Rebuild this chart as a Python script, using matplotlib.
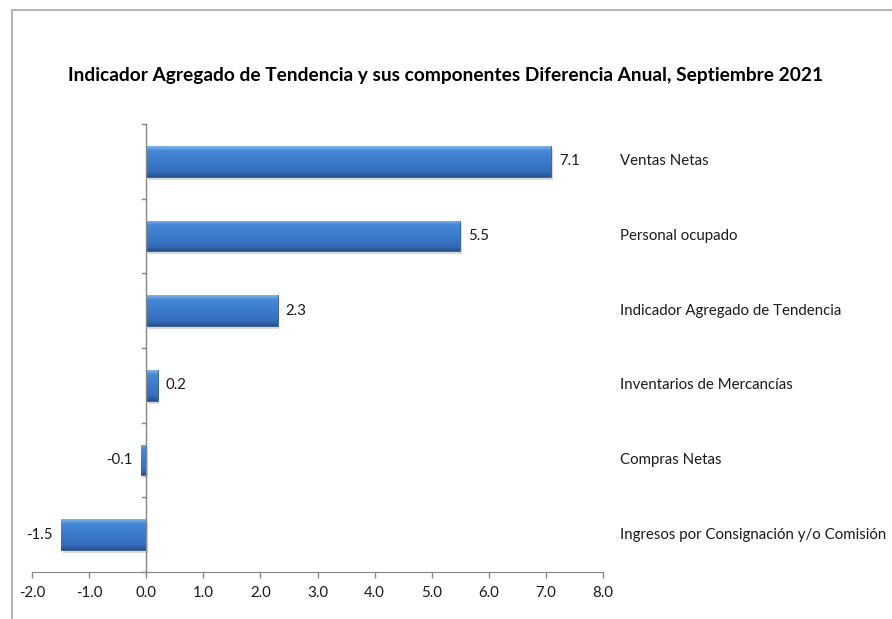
import numpy as np
import matplotlib
matplotlib.use("Agg")
import matplotlib.pyplot as plt
from matplotlib.patches import Rectangle
from matplotlib.colors import LinearSegmentedColormap
from matplotlib.transforms import blended_transform_factory

# data (bottom to top)
categories = ["Ingresos por Consignación y/o Comisión", "Compras Netas",
              "Inventarios de Mercancías", "Indicador Agregado de Tendencia",
              "Personal ocupado", "Ventas Netas"]
values = [-1.5, -0.1, 0.2, 2.3, 5.5, 7.1]
x_ticks = [-2.0, -1.0, 0.0, 1.0, 2.0, 3.0, 4.0, 5.0, 6.0, 7.0, 8.0]
title = "Indicador Agregado de Tendencia y sus componentes Diferencia Anual, Septiembre 2021"

plt.rcParams['font.family'] = ['Lato', 'DejaVu Sans']
fs = 10.8

fig = plt.figure(figsize=(8.92, 6.19), dpi=100)
ax = fig.add_axes([32.3 / 892, 1 - 572 / 619, (602.7 - 32.3) / 892, (572 - 124) / 619])

# outer frame (chart area border)
fig.patches.append(Rectangle((11.5 / 892, -0.05), 1.0, 1 - 10 / 619 + 0.05,
                             transform=fig.transFigure, fill=False,
                             edgecolor="#a6a6a6", lw=1.2))

ypos = np.arange(len(categories))
bar_h = 0.415
grad = LinearSegmentedColormap.from_list(
    "bar", [(0.0, "#27518c"), (0.15, "#346dba"), (0.5, "#3b7acb"),
            (0.85, "#4687d6"), (1.0, "#80b3ea")])

# shadows
for y, v in zip(ypos, values):
    ax.add_patch(Rectangle((min(0, v) + 0.03, y - bar_h / 2 - 0.04), abs(v), bar_h,
                           facecolor="#bfbfbf", edgecolor="none", alpha=0.6, zorder=1))

bars = ax.barh(ypos, values, height=bar_h, color="#3b79c6",
               edgecolor="#2f5f9a", linewidth=0.6, zorder=2)

# gradient fill clipped to each bar
g = np.linspace(0, 1, 64).reshape(-1, 1)
for b in bars:
    x0, y0 = b.get_x(), b.get_y()
    w, h = b.get_width(), b.get_height()
    im = ax.imshow(g, cmap=grad, aspect="auto", origin="lower",
                   extent=[x0, x0 + w, y0, y0 + h], zorder=3)
    im.set_clip_path(b)

# value labels
for y, v in zip(ypos, values):
    if v >= 0:
        ax.text(v + 0.14, y, f"{v:.1f}", ha="left", va="center", fontsize=fs, color="#1a1a1a")
    else:
        ax.text(v - 0.14, y, f"{v:.1f}", ha="right", va="center", fontsize=fs, color="#1a1a1a")

# category labels on the right
trans = blended_transform_factory(fig.transFigure, ax.transData)
for y, c in zip(ypos, categories):
    ax.text(620 / 892, y, c, transform=trans,
            ha="left", va="center", fontsize=fs, color="#1a1a1a")

ax.set_xlim(-2, 8)
ax.set_ylim(-0.5, len(categories) - 0.5)
ax.set_xticks(x_ticks)
ax.set_xticklabels([f"{t:.1f}" for t in x_ticks], fontsize=fs, color="#1a1a1a")
ax.set_yticks([])
ax.tick_params(axis="x", direction="out", length=4, color="#868686", width=1, pad=6)

for s in ["top", "right", "left"]:
    ax.spines[s].set_visible(False)
ax.spines["bottom"].set_color("#868686")

# y axis at zero with category separators
ax.axvline(0, color="#868686", lw=1, zorder=4)
for yt in np.arange(len(categories) + 1) - 0.5:
    ax.plot([-0.08, 0], [yt, yt], color="#868686", lw=1, clip_on=False, zorder=4)

fig.text(0.5, 1 - 75 / 619, title, ha="center", va="center",
         fontsize=13.8, fontweight="bold", color="#000000")

fig.savefig("out.png", dpi=100)
